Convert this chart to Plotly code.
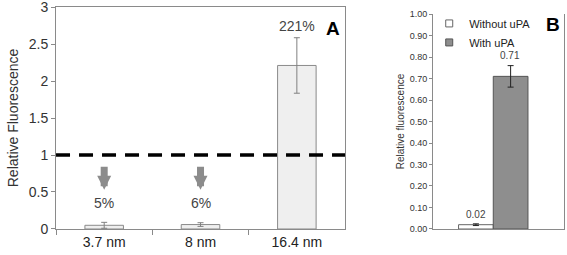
import plotly.graph_objects as go

# Panel A data
cats_a = ["3.7 nm", "8 nm", "16.4 nm"]
vals_a = [0.05, 0.06, 2.21]
err_a = [0.04, 0.025, 0.375]
pct_a = ["5%", "6%", "221%"]
ref_level = 1.0

# Panel B data
series_b = ["Without uPA", "With uPA"]
vals_b = [0.02, 0.71]
err_b = [0.004, 0.05]
labels_b = ["0.02", "0.71"]

FONT = "Arial, Liberation Sans, sans-serif"
fig = go.Figure()

fig.add_trace(go.Bar(
    x=cats_a, y=vals_a, width=0.4,
    marker=dict(color="#efefef", line=dict(color="#8a8a8a", width=1)),
    error_y=dict(type="data", array=err_a, color="#808080", thickness=1, width=3),
    xaxis="x", yaxis="y", showlegend=False))

colors_b = ["#ffffff", "#8e8e8e"]
lines_b = ["#666666", "#555555"]
for name, v, e, c, lc in zip(series_b, vals_b, err_b, colors_b, lines_b):
    fig.add_trace(go.Bar(
        x=[0], y=[v], name=name,
        marker=dict(color=c, line=dict(color=lc, width=1)),
        error_y=dict(type="data", array=[e], color="#222222", thickness=1, width=3),
        xaxis="x2", yaxis="y2", showlegend=False))
# legend entries (small squares)
for name, c, lc in zip(series_b, colors_b, lines_b):
    fig.add_trace(go.Scatter(
        x=[None], y=[None], name=name, mode="markers",
        marker=dict(symbol="square", size=7, color=c, line=dict(color=lc, width=1)),
        xaxis="x2", yaxis="y2", showlegend=True))

axline = dict(showline=True, linecolor="#8a8a8a", linewidth=1, showgrid=False, zeroline=False,
              automargin=False, ticklabeloverflow="allow")

fig.update_layout(
    width=567, height=255,
    margin=dict(l=0, r=0, t=0, b=0),
    paper_bgcolor="white", plot_bgcolor="white",
    font=dict(family=FONT, color="#333333"),
    barmode="group", bargap=0.47,
    xaxis=dict(domain=[0.0988, 0.6085], type="category", range=[-0.5, 2.5],
               tickson="boundaries", ticks="outside", ticklen=5, tickcolor="#8a8a8a",
               tickfont=dict(size=14, color="#222222"), mirror=True, anchor="y", **axline),
    yaxis=dict(domain=[0.102, 0.9725], range=[0, 3], dtick=0.5, ticks="outside", ticklen=4,
               tickcolor="#8a8a8a", tickfont=dict(size=14, color="#333333"), mirror=True,
               title=dict(text="Relative Fluorescence", font=dict(size=14, color="#333333"), standoff=6),
               anchor="x", **axline),
    xaxis2=dict(domain=[0.7637, 0.9947], range=[-0.46, 0.54], showticklabels=False,
                ticks="", anchor="y2", **axline),
    yaxis2=dict(domain=[0.102, 0.945], range=[0, 1.0], dtick=0.1, tickformat=".2f",
                ticks="outside", ticklen=3, tickcolor="#8a8a8a",
                tickfont=dict(size=9, color="#333333"), mirror=True,
                title=dict(text="Relative fluorescence", font=dict(size=10, color="#333333"), standoff=3),
                anchor="x2", **axline),
    legend=dict(x=0.757, y=0.965, xanchor="left", yanchor="top", bgcolor="rgba(0,0,0,0)",
                font=dict(size=11, color="#222222"), tracegroupgap=0, itemwidth=30,
                traceorder="normal"),
)

# dashed reference line
fig.add_shape(type="line", xref="x domain", yref="y", x0=0, x1=1, y0=ref_level, y1=ref_level,
              line=dict(color="black", width=3.5, dash="14px,9px"))

# percentages and arrows
for i, (v, e, p) in enumerate(zip(vals_a, err_a, pct_a)):
    if v < ref_level:
        fig.add_annotation(x=i, y=0.53, ax=i, ay=0.86, xref="x", yref="y", axref="x", ayref="y",
                           text="", showarrow=True, arrowhead=2, arrowsize=0.4, arrowwidth=7,
                           arrowcolor="#8c8c8c")
        fig.add_annotation(x=i, y=0.35, xref="x", yref="y", text=p, showarrow=False,
                           font=dict(size=14, color="#444444"))
    else:
        fig.add_annotation(x=i, y=2.74, xref="x", yref="y", text=p, showarrow=False,
                           font=dict(size=14, color="#444444"))

fig.add_annotation(x=0.587, y=0.888, xref="paper", yref="paper", text="<b>A</b>",
                   xanchor="center", yanchor="middle",
                   showarrow=False, font=dict(size=19, color="black"))

# Panel B value labels
offsets = [-0.13, 0.13]
for off, v, e, t in zip(offsets, vals_b, err_b, labels_b):
    fig.add_annotation(x=off, y=v + e + 0.045, xref="x2", yref="y2", text=t, showarrow=False,
                       font=dict(size=10, color="#444444"))

fig.add_annotation(x=0.975, y=0.905, xref="paper", yref="paper", text="<b>B</b>",
                   xanchor="center", yanchor="middle",
                   showarrow=False, font=dict(size=19, color="black"))

fig.write_html("out.html", post_script="document.body.style.margin='0';",
               config={"displayModeBar": False})
